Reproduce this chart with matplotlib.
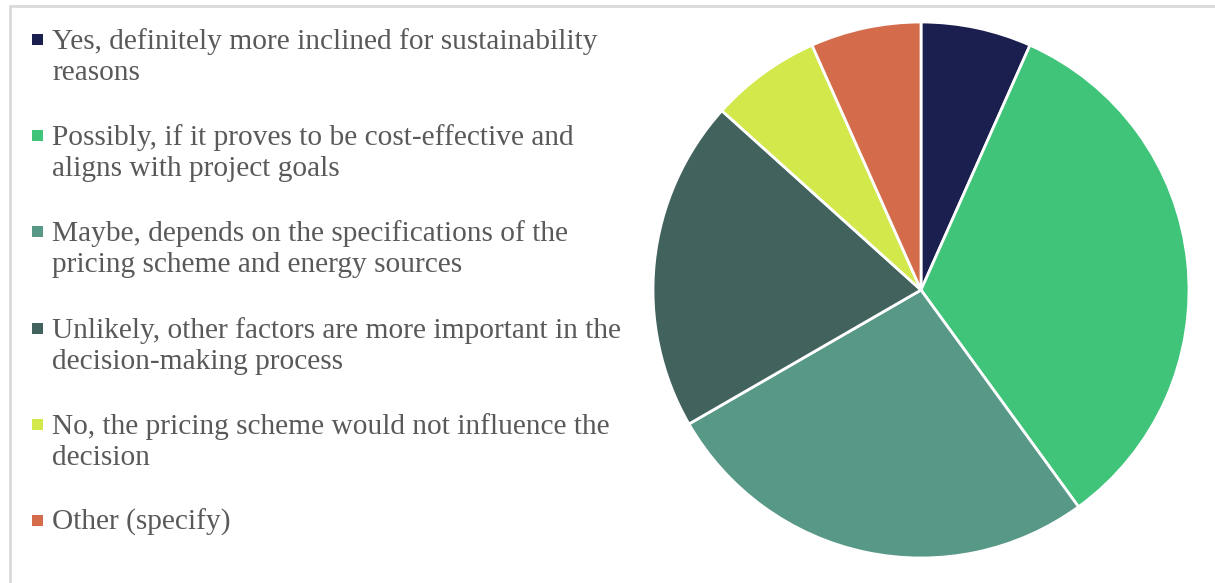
import matplotlib.pyplot as plt
from matplotlib.patches import Rectangle

labels = ["Yes, definitely more inclined for sustainability\nreasons",
          "Possibly, if it proves to be cost-effective and\naligns with project goals",
          "Maybe, depends on the specifications of the\npricing scheme and energy sources",
          "Unlikely, other factors are more important in the\ndecision-making process",
          "No, the pricing scheme would not influence the\ndecision",
          "Other (specify)"]
counts = [1, 5, 4, 3, 1, 1]
colors = ["#1b1f50", "#3fc47a", "#589887", "#42625e", "#d2e84b", "#d46c4b"]

W, H = 1215, 583
fig = plt.figure(figsize=(W / 100, H / 100), dpi=100)

# light frame around the chart area
fig.patches.append(Rectangle((10 / W, -0.1), 1.1, (H - 6) / H + 0.1, transform=fig.transFigure,
                             fill=False, edgecolor="#d9d9d9", linewidth=2))

cx, cy, r = 921, 290, 268
ax = fig.add_axes([(cx - r) / W, (H - cy - r) / H, 2 * r / W, 2 * r / H])
ax.pie(counts, colors=colors, startangle=90, counterclock=False, radius=1,
       wedgeprops=dict(edgecolor="white", linewidth=2))
ax.set_xlim(-1, 1)
ax.set_ylim(-1, 1)
ax.set_aspect("equal")
ax.axis("off")

for i, (lab, c) in enumerate(zip(labels, colors)):
    base = 49 + i * 96.2
    fig.patches.append(Rectangle((32 / W, 1 - (base - 4) / H), 11 / W, 11 / H,
                                 transform=fig.transFigure, facecolor=c, edgecolor="none"))
    for j, line in enumerate(lab.split("\n")):
        fig.text(52 / W, 1 - (base + j * 31) / H, line, fontsize=21.2,
                 family="Liberation Serif", color="#595959", va="baseline", ha="left")

fig.savefig("out.png", dpi=100)
